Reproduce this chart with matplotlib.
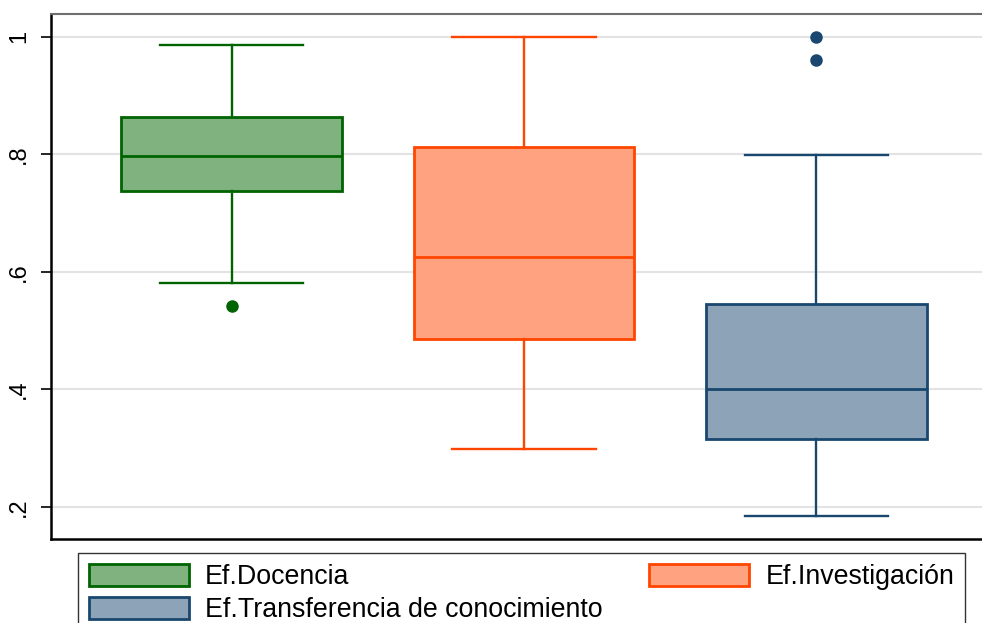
import matplotlib.pyplot as plt
from matplotlib.patches import Patch

plt.rcParams['font.family'] = ['Liberation Sans', 'DejaVu Sans']

# box summaries for each efficiency score
labels = ["Ef.Docencia", "Ef.Investigación", "Ef.Transferencia de conocimiento"]
whislo = [0.581, 0.299, 0.185]
q1 = [0.738, 0.486, 0.316]
med = [0.797, 0.626, 0.401]
q3 = [0.864, 0.813, 0.545]
whishi = [0.986, 1.0, 0.799]
fliers = [[0.542], [], [1.0, 0.961]]

edge_colors = ["#006400", "#FF4500", "#1A476F"]

yticks = [0.2, 0.4, 0.6, 0.8, 1.0]
ytick_labels = [".2", ".4", ".6", ".8", "1"]


def light(c):
    # half-strength tint of the edge colour over white
    r, g, b = [int(c[k:k + 2], 16) / 255 for k in (1, 3, 5)]
    return (0.5 * r + 0.5, 0.5 * g + 0.5, 0.5 * b + 0.5)


fig = plt.figure(figsize=(9.82, 6.23), dpi=100)
ax = fig.add_axes([51 / 982, 84 / 623, 1 - 51 / 982 + 0.002, (539 - 14) / 623])

positions = [1, 2, 3]
for i in range(3):
    c = edge_colors[i]
    s = dict(label=labels[i], whislo=whislo[i], q1=q1[i], med=med[i],
             q3=q3[i], whishi=whishi[i], fliers=fliers[i])
    ax.bxp([s], positions=[positions[i]], widths=0.755, patch_artist=True,
           showfliers=True,
           boxprops=dict(facecolor=light(c), edgecolor=c, linewidth=2),
           medianprops=dict(color=c, linewidth=2),
           whiskerprops=dict(color=c, linewidth=1.7),
           capprops=dict(color=c, linewidth=1.7),
           capwidths=0.49,
           flierprops=dict(marker='o', markerfacecolor=c, markeredgecolor=c,
                           markersize=8))

ax.set_xlim(0.3825, 3.573)
ax.set_ylim(0.1455, 1.039)
ax.set_xticks([])
ax.set_yticks(yticks)
ax.set_yticklabels(ytick_labels, rotation=90, va='center', fontsize=17)
ax.tick_params(axis='y', length=7, width=1.2, pad=8)
ax.yaxis.grid(True, color='#E3E3E3', linewidth=1.5)
ax.set_axisbelow(True)

ax.spines['left'].set_linewidth(1.8)
ax.spines['bottom'].set_linewidth(1.8)
ax.spines['top'].set_color('#6E6E6E')
ax.spines['top'].set_linewidth(1.5)
ax.spines['right'].set_visible(False)

order = [0, 2, 1]
handles = [Patch(facecolor=light(edge_colors[i]), edgecolor=edge_colors[i], linewidth=2)
           for i in order]
leg = fig.legend(handles, [labels[i] for i in order], ncol=2,
                 loc='upper left', bbox_to_anchor=(78 / 982, 1 - 553 / 623),
                 fontsize=19.3, frameon=True, fancybox=False, edgecolor='black',
                 handlelength=3.73, handleheight=0.9, handletextpad=0.6,
                 labelspacing=0.25, columnspacing=1.75, borderpad=0.4,
                 borderaxespad=0)
leg.get_frame().set_linewidth(1.0)

fig.savefig("out.png", dpi=100)
